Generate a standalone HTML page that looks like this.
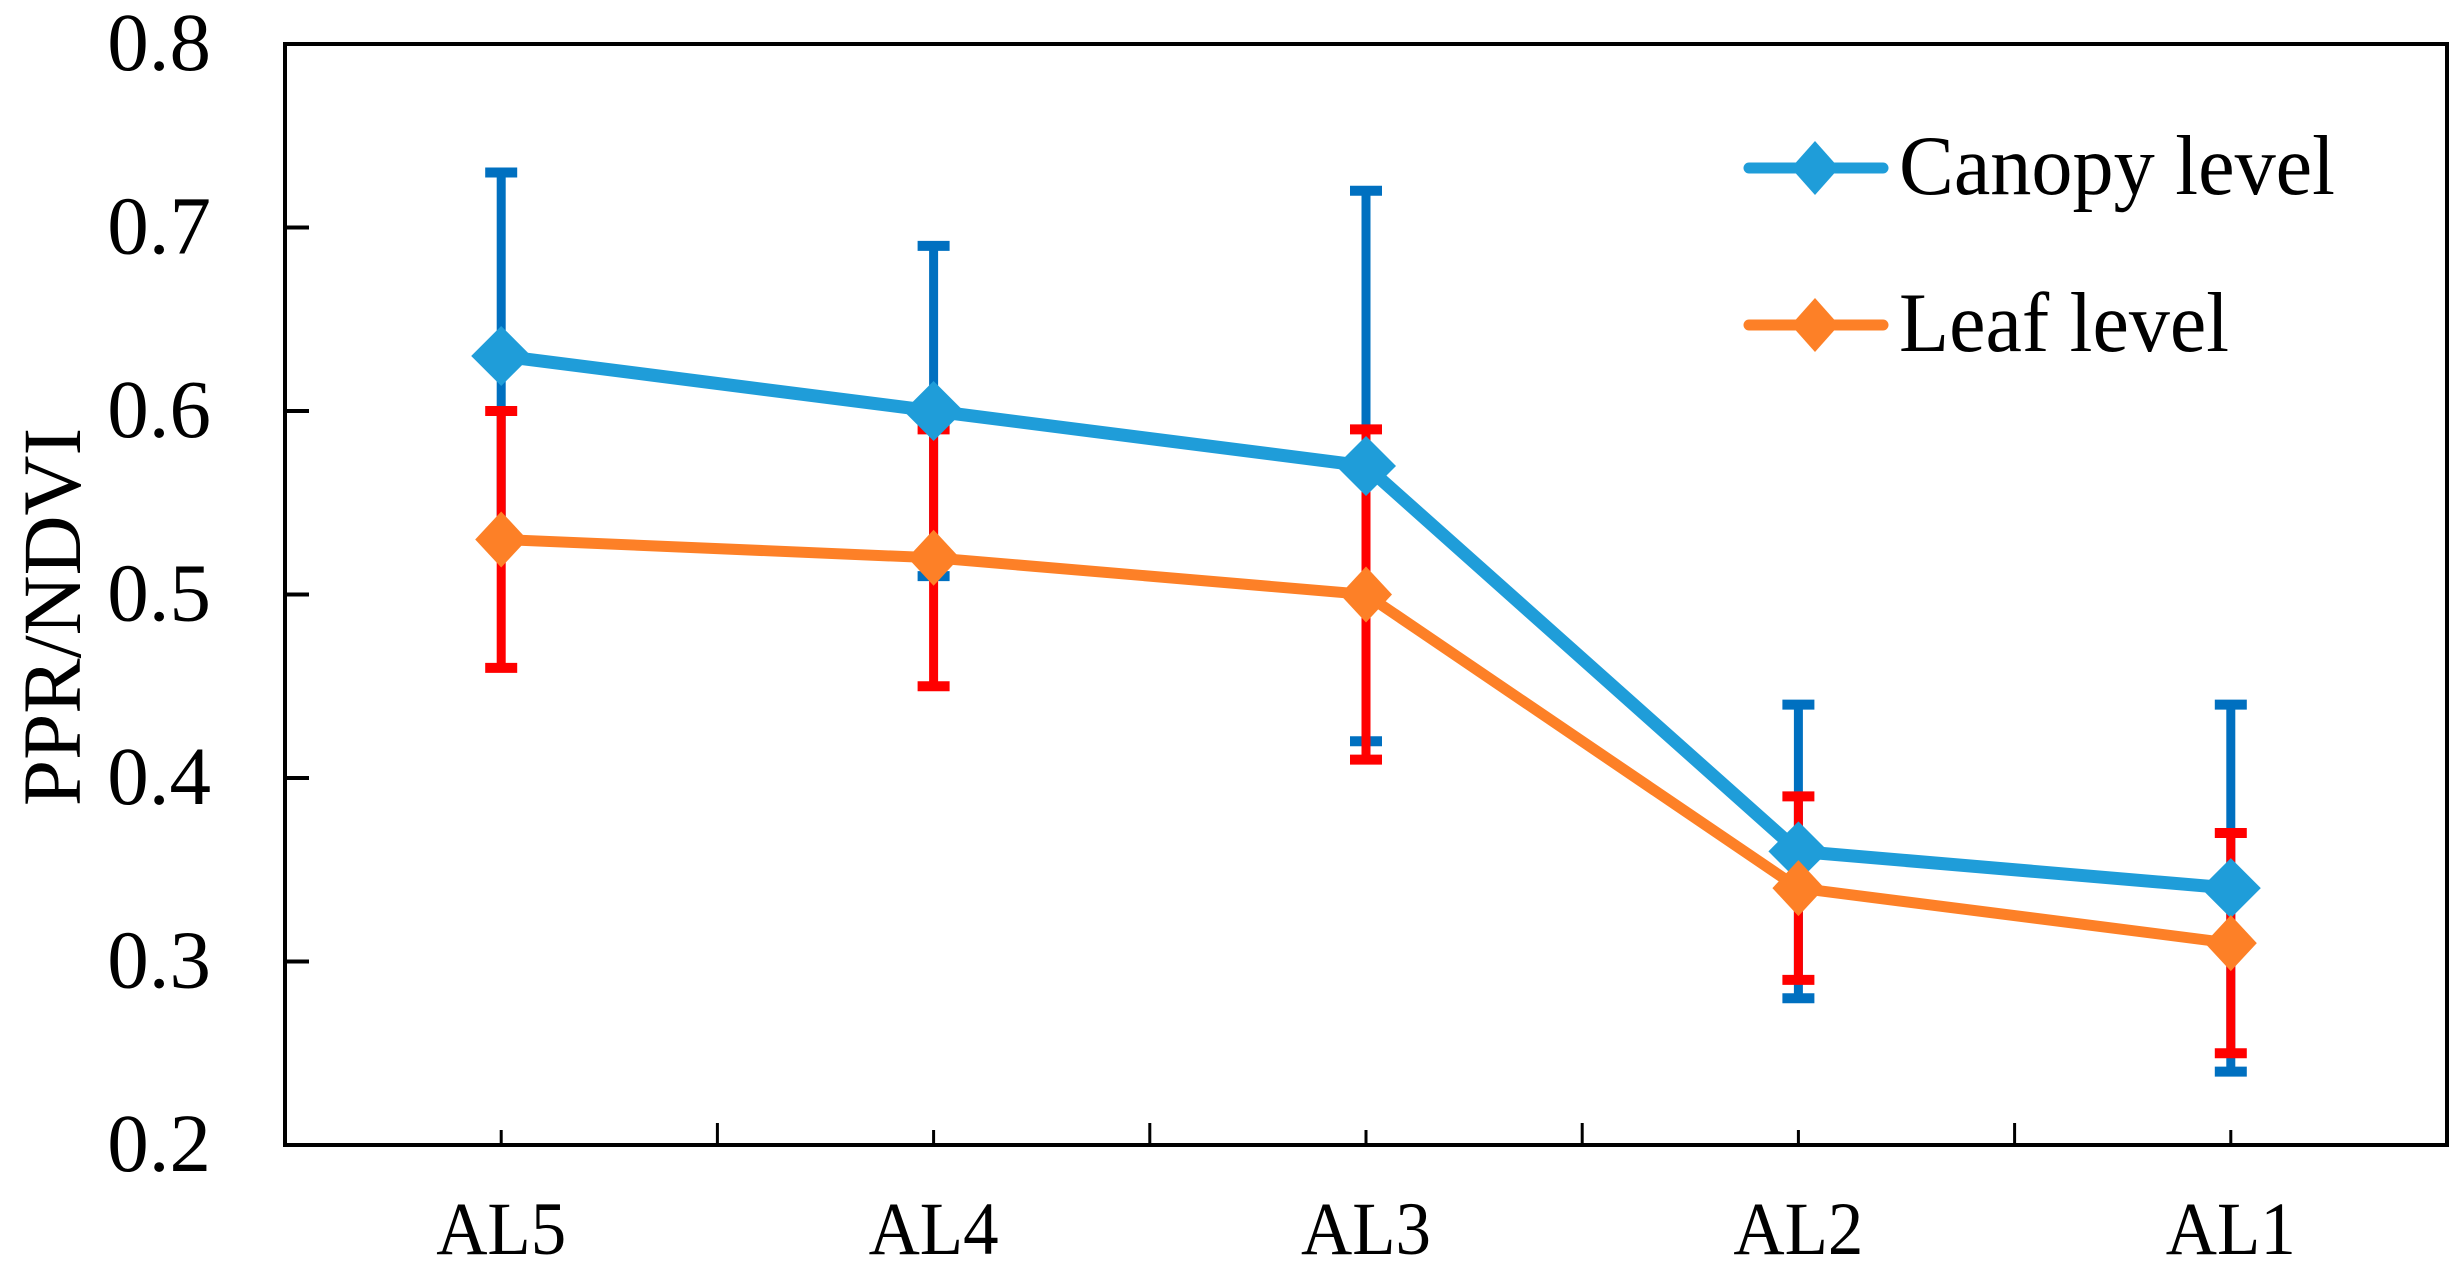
<!DOCTYPE html>
<html><head><meta charset="utf-8"><style>
html,body{margin:0;padding:0;background:#fff;}
svg{display:block;}
text{font-family:"Liberation Serif","Times New Roman",serif;fill:#000;}
</style></head><body>
<svg id="chart" width="2464" height="1272" viewBox="0 0 2464 1272" xmlns="http://www.w3.org/2000/svg"></svg>
<script>
const categories = ["AL5","AL4","AL3","AL2","AL1"];
const canopyValues = [0.63,0.60,0.57,0.36,0.34];
const canopyUpper = [0.73,0.69,0.72,0.44,0.44];
const canopyLower = [0.53,0.51,0.42,0.28,0.24];
const leafValues = [0.53,0.52,0.50,0.34,0.31];
const leafUpper = [0.60,0.59,0.59,0.39,0.37];
const leafLower = [0.46,0.45,0.41,0.29,0.25];
const yTicks = [0.2,0.3,0.4,0.5,0.6,0.7,0.8];
const yTickLabels = ["0.2","0.3","0.4","0.5","0.6","0.7","0.8"];

const NS = "http://www.w3.org/2000/svg";
const svg = document.getElementById("chart");
const L = 285, R = 2447, T = 44, B = 1145;
const yMin = 0.2, yMax = 0.8;
function yS(v){ return B - (v - yMin) / (yMax - yMin) * (B - T); }
const step = (R - L) / categories.length;
function xS(i){ return L + (i + 0.5) * step; }
function mk(tag, attrs, parent){
  const e = document.createElementNS(NS, tag);
  for (const k in attrs) e.setAttribute(k, attrs[k]);
  (parent || svg).appendChild(e);
  return e;
}

const frame = mk("rect",{x:L,y:T,width:R-L,height:B-T,fill:"none",stroke:"#000","stroke-width":4});



yTicks.forEach((v,i)=>{
  const y = yS(v);
  if (i>0 && i<yTicks.length-1){
    const t = mk("line",{x1:L,x2:L+24,y1:y,y2:y,stroke:"#000","stroke-width":4});
    
    
  }
  const tx = mk("text",{x:211,y:y+26,"text-anchor":"end","font-size":83});
  tx.textContent = yTickLabels[i];
  
  
});

categories.forEach((c,i)=>{
  const x = xS(i);
  const t = mk("line",{x1:x,x2:x,y1:B,y2:B-15,stroke:"#000","stroke-width":3});
  
  
  if (i>0){
    const bx = L + i*step;
    const m = mk("line",{x1:bx,x2:bx,y1:B,y2:B-22,stroke:"#000","stroke-width":3});
    
    
  }
  const tx = mk("text",{x:x,y:1254,"text-anchor":"middle","font-size":75,textLength:130,lengthAdjust:"spacingAndGlyphs"});
  tx.textContent = c;
  
  
});

const yt = mk("text",{x:0,y:0,"text-anchor":"middle","font-size":83,transform:"translate(80,617) rotate(-90)"});
yt.textContent = "PPR/NDVI";



function errorBars(vals, up, lo, color, name){
  vals.forEach((v,i)=>{
    const x = xS(i);
    const g = mk("g",{});
    
    
    mk("line",{x1:x,x2:x,y1:yS(up[i]),y2:yS(lo[i]),stroke:color,"stroke-width":9},g);
    mk("line",{x1:x-16,x2:x+16,y1:yS(up[i]),y2:yS(up[i]),stroke:color,"stroke-width":10},g);
    mk("line",{x1:x-16,x2:x+16,y1:yS(lo[i]),y2:yS(lo[i]),stroke:color,"stroke-width":10},g);
  });
}
function series(vals, color, name, lw, hw, hh){
  const pts = vals.map((v,i)=>xS(i)+","+yS(v)).join(" ");
  const pl = mk("polyline",{points:pts,fill:"none",stroke:color,"stroke-width":lw,"stroke-linejoin":"round"});
  
  
  vals.forEach((v,i)=>{
    const x = xS(i), y = yS(v);
    const d = mk("polygon",{points:`${x},${y-hh} ${x+hw},${y} ${x},${y+hh} ${x-hw},${y}`,fill:color});
    
    
  });
}
errorBars(canopyValues, canopyUpper, canopyLower, "#0070c0", "canopy-error-bar");
errorBars(leafValues, leafUpper, leafLower, "#ff0000", "leaf-error-bar");
series(canopyValues, "#1f9dd9", "canopy", 13, 30, 30);
series(leafValues, "#fd8027", "leaf", 11, 26, 28);

function legend(y, color, label, name, len){
  const g = mk("g",{});
  
  
  mk("line",{x1:1749,x2:1883,y1:y,y2:y,stroke:color,"stroke-width":11,"stroke-linecap":"round"},g);
  const cx = 1815, h = 27;
  mk("polygon",{points:`${cx},${y-h} ${cx+24},${y} ${cx},${y+h} ${cx-24},${y}`,fill:color},g);
  const t = mk("text",{x:1899,y:y+26,"font-size":85,textLength:len,lengthAdjust:"spacingAndGlyphs"},g);
  t.textContent = label;
}
legend(168, "#1f9dd9", "Canopy level", "legend-canopy-level", 436);
legend(325, "#fd8027", "Leaf level", "legend-leaf-level", 330);
</script>
</body></html>
